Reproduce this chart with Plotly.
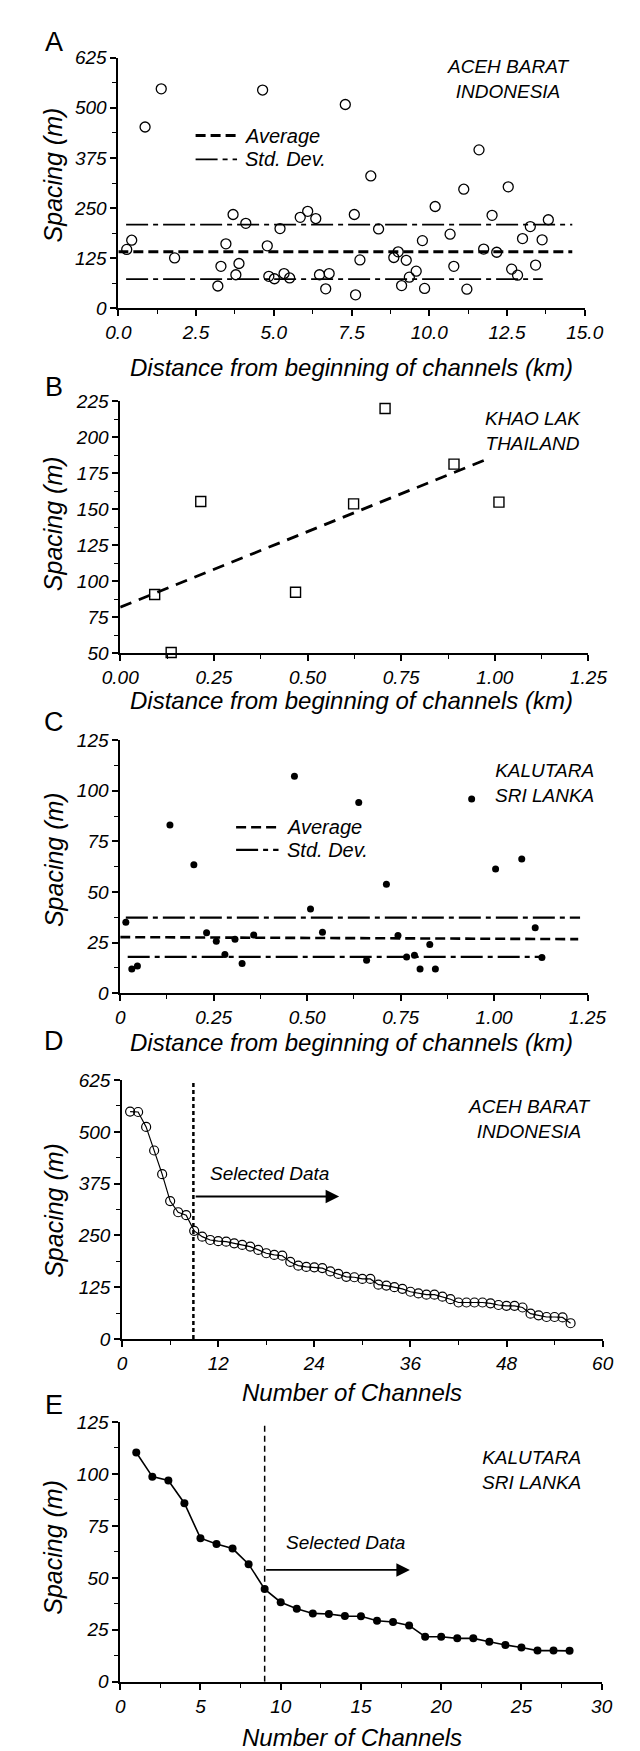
import plotly.graph_objects as go

W, H = 640, 1751
FONT = "Liberation Sans, Arial, Helvetica, sans-serif"

# ---------------- Panel A: Aceh Barat, spacing vs distance ----------------
a_dist = [0.27, 0.43, 0.86, 1.38, 1.81, 3.20, 3.30, 3.46, 3.69, 3.78, 3.88, 4.10, 4.64, 4.79,
          4.84, 5.02, 5.20, 5.33, 5.51, 5.85, 6.09, 6.35, 6.47, 6.67, 6.78, 7.30, 7.59, 7.63,
          7.77, 8.12, 8.37, 8.86, 9.00, 9.11, 9.26, 9.36, 9.58, 9.78, 9.85, 10.19, 10.67, 10.79,
          11.11, 11.21, 11.60, 11.75, 12.02, 12.17, 12.54, 12.65, 12.84, 13.00, 13.25, 13.42,
          13.63, 13.83]
a_spacing = [147, 170, 452, 547, 126, 56, 105, 161, 234, 84, 112, 212, 544, 156,
             80, 74, 199, 87, 76, 227, 242, 224, 84, 49, 87, 508, 234, 34,
             121, 330, 198, 127, 141, 57, 120, 78, 93, 169, 50, 254, 185, 105,
             297, 48, 395, 148, 232, 140, 303, 98, 83, 174, 204, 108,
             171, 221]
a_avg_x, a_avg_y = [0.0, 14.6], [141, 141]
a_sdhi_x, a_sdhi_y = [0.25, 14.6], [209, 209]
a_sdlo_x, a_sdlo_y = [0.25, 13.65], [73, 73]
a_xticks = [0, 2.5, 5, 7.5, 10, 12.5, 15]
a_xlabels = ["0.0", "2.5", "5.0", "7.5", "10.0", "12.5", "15.0"]
a_yticks = [0, 125, 250, 375, 500, 625]

# ---------------- Panel B: Khao Lak ----------------
b_dist = [0.092, 0.136, 0.215, 0.468, 0.623, 0.707, 0.891, 1.011]
b_spacing = [90.8, 50.5, 155.4, 92.4, 153.8, 220, 181.4, 155]
b_trend_x, b_trend_y = [0.0, 0.99], [82, 186]
b_xticks = [0, 0.25, 0.5, 0.75, 1.0, 1.25]
b_xlabels = ["0.00", "0.25", "0.50", "0.75", "1.00", "1.25"]
b_yticks = [50, 75, 100, 125, 150, 175, 200, 225]

# ---------------- Panel C: Kalutara ----------------
c_dist = [0.015, 0.031, 0.046, 0.133, 0.197, 0.231, 0.257, 0.280, 0.307, 0.326, 0.357,
          0.466, 0.509, 0.541, 0.638, 0.659, 0.712, 0.743, 0.766, 0.787, 0.802, 0.828,
          0.843, 0.940, 1.004, 1.074, 1.110, 1.128]
c_spacing = [35.0, 11.9, 13.4, 83.1, 63.4, 29.8, 25.7, 19.1, 26.6, 14.7, 28.7,
             107.2, 41.6, 30.1, 94.2, 16.3, 53.8, 28.5, 17.9, 18.7, 11.9, 24.1,
             11.9, 96.0, 61.3, 66.3, 32.3, 17.6]
c_avg_x, c_avg_y = [0.0, 1.225], [27.7, 26.7]
c_sdhi_x, c_sdhi_y = [0.015, 1.23], [37.3, 37.3]
c_sdlo_x, c_sdlo_y = [0.02, 1.128], [17.9, 17.9]
c_xticks = [0, 0.25, 0.5, 0.75, 1.0, 1.25]
c_xlabels = ["0", "0.25", "0.50", "0.75", "1.00", "1.25"]
c_yticks = [0, 25, 50, 75, 100, 125]

# ---------------- Panel D: Aceh Barat ranked ----------------
d_spacing = [549, 548, 512, 455, 398, 333, 306, 299, 261, 247, 239, 236, 235, 231,
             227, 223, 215, 207, 203, 201, 186, 177, 174, 173, 171, 163, 157, 150,
             149, 145, 145, 131, 129, 125, 121, 114, 110, 107, 107, 102, 96, 88,
             88, 88, 88, 86, 82, 80, 80, 76, 61, 57, 53, 53, 52, 38]
d_channels = list(range(1, len(d_spacing) + 1))
d_cut_x, d_cut_y = [8.9, 8.9], [0, 625]
d_arrow_x, d_arrow_y = [9.0, 27.1], 344
d_xticks = [0, 12, 24, 36, 48, 60]
d_yticks = [0, 125, 250, 375, 500, 625]

# ---------------- Panel E: Kalutara ranked ----------------
e_spacing = [110.3, 98.7, 96.8, 85.9, 69.1, 66.3, 64.1, 56.6, 44.6, 38.3, 35.1, 32.9,
             32.6, 31.6, 31.5, 29.4, 28.8, 27.1, 21.7, 21.7, 20.9, 20.9, 19.3, 17.7,
             16.5, 15.0, 15.0, 14.9]
e_channels = list(range(1, len(e_spacing) + 1))
e_cut_x, e_cut_y = [9.0, 9.0], [0, 125]
e_arrow_x, e_arrow_y = [9.0, 18.05], 53.8
e_xticks = [0, 5, 10, 15, 20, 25, 30]
e_yticks = [0, 25, 50, 75, 100, 125]

legend_names = ["Average", "Std. Dev."]
XT = "Distance from beginning of channels (km)"
XN = "Number of Channels"
YT = "Spacing (m)"

# ---------------- layout geometry (pixels) ----------------
def fx(x):
    return x / W

def fy(y):
    return 1 - y / H

boxes = {
    1: ((98, 593), (40, 294)),
    2: ((100, 597), (388, 643)),
    3: ((100, 596), (731, 987)),
    4: ((102, 612), (1075, 1337)),
    5: ((100, 611), (1421, 1684)),
}

AVG_DASH = "10px,5px"
SD_DASH = "22px,5px,5px,5px"

fig = go.Figure()
blk = "black"

def ax(i):
    return ("x" if i == 1 else f"x{i}"), ("y" if i == 1 else f"y{i}")

# Panel A
xa, ya = ax(1)
fig.add_trace(go.Scatter(x=a_avg_x, y=a_avg_y, mode="lines", name=legend_names[0],
                         line=dict(color=blk, width=3, dash=AVG_DASH), xaxis=xa, yaxis=ya))
fig.add_trace(go.Scatter(x=a_sdhi_x, y=a_sdhi_y, mode="lines", name=legend_names[1],
                         line=dict(color=blk, width=1.8, dash=SD_DASH), xaxis=xa, yaxis=ya))
fig.add_trace(go.Scatter(x=a_sdlo_x, y=a_sdlo_y, mode="lines", name=legend_names[1],
                         line=dict(color=blk, width=1.8, dash=SD_DASH), xaxis=xa, yaxis=ya))
fig.add_trace(go.Scatter(x=a_dist, y=a_spacing, mode="markers", cliponaxis=False,
                         marker=dict(symbol="circle-open", size=10, color=blk, line=dict(width=1.3)),
                         xaxis=xa, yaxis=ya))

# Panel B
xb, yb = ax(2)
fig.add_trace(go.Scatter(x=b_trend_x, y=b_trend_y, mode="lines",
                         line=dict(color=blk, width=2.8, dash="12px,8px"), xaxis=xb, yaxis=yb))
fig.add_trace(go.Scatter(x=b_dist, y=b_spacing, mode="markers", cliponaxis=False,
                         marker=dict(symbol="square-open", size=10, color=blk, line=dict(width=1.4)),
                         xaxis=xb, yaxis=yb))

# Panel C
xc, yc = ax(3)
fig.add_trace(go.Scatter(x=c_avg_x, y=c_avg_y, mode="lines", name=legend_names[0],
                         line=dict(color=blk, width=2.6, dash=AVG_DASH), xaxis=xc, yaxis=yc))
fig.add_trace(go.Scatter(x=c_sdhi_x, y=c_sdhi_y, mode="lines", name=legend_names[1],
                         line=dict(color=blk, width=2.2, dash=SD_DASH), xaxis=xc, yaxis=yc))
fig.add_trace(go.Scatter(x=c_sdlo_x, y=c_sdlo_y, mode="lines", name=legend_names[1],
                         line=dict(color=blk, width=2.2, dash=SD_DASH), xaxis=xc, yaxis=yc))
fig.add_trace(go.Scatter(x=c_dist, y=c_spacing, mode="markers", cliponaxis=False,
                         marker=dict(symbol="circle", size=7, color=blk), xaxis=xc, yaxis=yc))

# Panel D
xd, yd = ax(4)
fig.add_trace(go.Scatter(x=d_cut_x, y=d_cut_y, mode="lines",
                         line=dict(color=blk, width=2.5, dash="4px,3px"), xaxis=xd, yaxis=yd))
fig.add_trace(go.Scatter(x=d_channels, y=d_spacing, mode="lines+markers",
                         cliponaxis=False, line=dict(color=blk, width=1.2),
                         marker=dict(symbol="circle-open", size=9, color=blk, line=dict(width=1.2)),
                         xaxis=xd, yaxis=yd))

# Panel E
xe, ye = ax(5)
fig.add_trace(go.Scatter(x=e_cut_x, y=e_cut_y, mode="lines",
                         line=dict(color=blk, width=1.5, dash="6px,4px"), xaxis=xe, yaxis=ye))
fig.add_trace(go.Scatter(x=e_channels, y=e_spacing, mode="lines+markers",
                         cliponaxis=False, line=dict(color=blk, width=1.6),
                         marker=dict(symbol="circle", size=8, color=blk), xaxis=xe, yaxis=ye))

tickfont = dict(family=FONT, size=19, color=blk, style="italic")

def axis_common(domain, rng, tickvals, ticktext, minor_dtick):
    d = dict(domain=domain, range=rng, tickmode="array", tickvals=tickvals,
             showline=True, linecolor=blk, linewidth=1.8, mirror=False,
             ticks="outside", ticklen=6, tickwidth=1.6, tickcolor=blk,
             showgrid=False, zeroline=False, tickfont=tickfont, fixedrange=True,
             minor=dict(ticks="outside", ticklen=4, tickwidth=1.3, tickcolor=blk,
                        dtick=minor_dtick, tick0=rng[0], showgrid=False))
    if ticktext is not None:
        d["ticktext"] = ticktext
    return d

specs = {
    1: (a_xticks, a_xlabels, [0, 15], 1.25, a_yticks, [0, 625], 62.5),
    2: (b_xticks, b_xlabels, [0, 1.25], 0.125, b_yticks, [50, 225], 12.5),
    3: (c_xticks, c_xlabels, [0, 1.25], 0.125, c_yticks, [0, 125], 12.5),
    4: (d_xticks, None, [0, 60], 6, d_yticks, [0, 625], 62.5),
    5: (e_xticks, None, [0, 30], 2.5, e_yticks, [0, 125], 12.5),
}

layout_axes = {}
for i, (xt, xl, xr, xm, yt, yr, ym) in specs.items():
    (x0, x1), (y0, y1) = boxes[i]
    xname = "xaxis" if i == 1 else f"xaxis{i}"
    yname = "yaxis" if i == 1 else f"yaxis{i}"
    xd_ = axis_common([fx(x0), fx(x1)], xr, xt, xl, xm)
    xd_["anchor"] = "y" if i == 1 else f"y{i}"
    yd_ = axis_common([fy(y1), fy(y0)], yr, yt, None, ym)
    yd_["anchor"] = "x" if i == 1 else f"x{i}"
    layout_axes[xname] = xd_
    layout_axes[yname] = yd_

ann = []
shapes = []

def text(t, x, y, size=19, italic=True, angle=0, xanchor="center", align="center"):
    ann.append(dict(text=t, x=fx(x), y=fy(y), xref="paper", yref="paper", showarrow=False,
                    xanchor=xanchor, yanchor="middle", align=align, textangle=angle,
                    borderpad=0,
                    font=dict(family=FONT, size=size, color=blk,
                              style="italic" if italic else "normal")))

# panel letters
for lab, yy in zip(["A", "B", "C", "D", "E"], [24, 373, 713, 1035, 1404]):
    text(lab, 30, yy, size=27, italic=False)

# axis titles
for yy in [354, 691, 1037]:
    text(XT, 345, yy, size=24)
for yy in [1391, 1740]:
    text(XN, 346, yy, size=24)
for yy in [159, 512, 852, 1207, 1548]:
    text(YT, 29, yy, size=25, angle=-90)

# site labels
text("ACEH BARAT<br>INDONESIA", 512, 62)
text("KHAO LAK<br>THAILAND", 538, 418)
text("KALUTARA<br>SRI LANKA", 550, 774)
text("ACEH BARAT<br>INDONESIA", 534, 1114)
text("KALUTARA<br>SRI LANKA", 537, 1470)

# legends (line keys + labels)
def legend_block(x_line0, x_line1, x_text, y_rows, widths):
    for (name, dash, lw), yy in zip([(legend_names[0], AVG_DASH, widths[0]),
                                     (legend_names[1], SD_DASH, widths[1])], y_rows):
        shapes.append(dict(type="line", xref="paper", yref="paper",
                           x0=fx(x_line0), x1=fx(x_line1), y0=fy(yy), y1=fy(yy),
                           line=dict(color=blk, width=lw, dash=dash)))
        text(name, x_text, yy, size=20, xanchor="left", align="left")

legend_block(180, 224, 231, [119, 143], [3, 1.8])
legend_block(223, 268, 276, [819, 842], [2.6, 2.2])

# selected data
text("Selected Data", 258, 1170, size=19)
text("Selected Data", 339, 1543, size=19)

for (axx, ayy), (xs, yv) in [(("x4", "y4"), (d_arrow_x, d_arrow_y)),
                             (("x5", "y5"), (e_arrow_x, e_arrow_y))]:
    ann.append(dict(x=xs[1], y=yv, ax=xs[0], ay=yv, xref=axx, yref=ayy, axref=axx, ayref=ayy,
                    text="", showarrow=True, arrowhead=2, arrowsize=1.5, arrowwidth=1.8,
                    arrowcolor=blk, standoff=0, startstandoff=0))

fig.update_layout(
    width=W, height=H, margin=dict(l=0, r=0, t=0, b=0, pad=0),
    paper_bgcolor="white", plot_bgcolor="white",
    showlegend=False,
    annotations=ann,
    shapes=shapes,
    **layout_axes,
)

fig.write_html("out.html")
